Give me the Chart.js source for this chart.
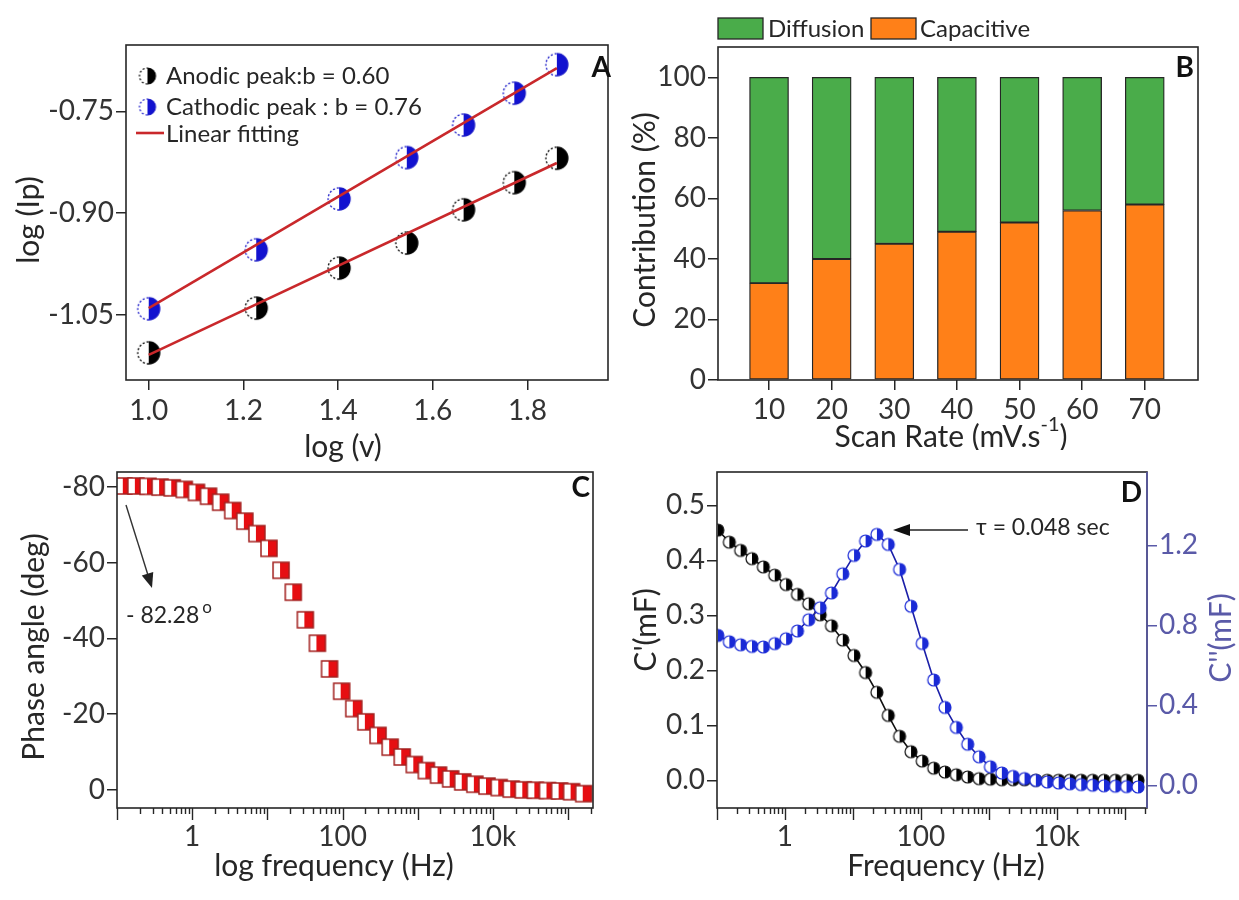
<!DOCTYPE html>
<html>
<head>
<meta charset="utf-8">
<script src="https://cdn.jsdelivr.net/npm/chart.js@4.4.0/dist/chart.umd.min.js"></script>
<style>
  html, body { margin: 0; padding: 0; background: #fff; }
  #wrap { position: relative; width: 1239px; height: 900px; overflow: hidden; }
  canvas { position: absolute; }
</style>
</head>
<body>
<div id="wrap">
  <canvas id="chartA" width="620" height="470" style="left:0;top:0;width:620px;height:470px"></canvas>
  <canvas id="chartB" width="619" height="450" style="left:620px;top:0;width:619px;height:450px"></canvas>
  <canvas id="chartC" width="620" height="450" style="left:0;top:450px;width:620px;height:450px"></canvas>
  <canvas id="chartD" width="619" height="450" style="left:620px;top:450px;width:619px;height:450px"></canvas>
</div>
<script>
// ---- A: peak current vs scan rate (log-log)
const logV = [1.0, 1.227, 1.402, 1.545, 1.665, 1.772, 1.862];
const logIpAnodic = [-1.106, -1.040, -0.981, -0.944, -0.895, -0.855, -0.819];
const logIpCathodic = [-1.041, -0.954, -0.879, -0.818, -0.770, -0.723, -0.681];
const fitX = [1.0, 1.862];
const fitAnodic = [-1.109, -0.826];
const fitCathodic = [-1.040, -0.686];
const ticksAx = [1.0, 1.2, 1.4, 1.6, 1.8];
const ticksAy = [-1.05, -0.90, -0.75];

// ---- B: capacitive / diffusion split
const scanRates = [10, 20, 30, 40, 50, 60, 70];
const capacitive = [32, 40, 45, 49, 52, 56, 58];
const diffusion = [68, 60, 55, 51, 48, 44, 42];
const ticksBy = [0, 20, 40, 60, 80, 100];

// ---- C: Bode phase
const freqC = [0.123, 0.178, 0.258, 0.374, 0.542, 0.785, 1.14, 1.65, 2.39, 3.46,
  5.01, 7.26, 10.5, 15.2, 22.1, 32.0, 46.3, 67.1, 97.3, 141,
  204, 296, 429, 621, 899, 1300, 1890, 2740, 3960, 5740,
  8320, 12100, 17500, 25300, 36600, 53100, 76900, 111000, 161000];
const phaseC = [-80.3, -80.3, -80.2, -80.0, -79.8, -79.4, -78.6, -77.6, -76.0, -73.8,
  -71.0, -67.7, -63.8, -58.0, -52.2, -44.9, -38.7, -31.9, -26.0, -21.4,
  -17.9, -14.3, -11.2, -8.6, -6.6, -5.0, -3.8, -2.8, -2.0, -1.4,
  -0.9, -0.5, -0.1, 0.1, 0.2, 0.3, 0.4, 0.6, 1.1];
const ticksCy = [-80, -60, -40, -20, 0];

// ---- D: real / imaginary capacitance
const freqD = [0.103, 0.152, 0.223, 0.327, 0.481, 0.708, 1.04, 1.53, 2.24, 3.30,
  4.84, 7.11, 10.4, 15.4, 22.6, 33.2, 48.8, 71.8, 105, 155,
  227, 334, 491, 723, 1060, 1560, 2290, 3370, 4940, 7280,
  10700, 15700, 23000, 33900, 49800, 73300, 107000, 158000];
const cReal = [0.455, 0.433, 0.418, 0.403, 0.388, 0.373, 0.356, 0.338, 0.321, 0.301,
  0.281, 0.255, 0.227, 0.196, 0.160, 0.118, 0.080, 0.052, 0.035, 0.022,
  0.015, 0.010, 0.006, 0.003, 0.002, 0.001, 0.001, 0.001, 0.000, 0.000,
  0.000, 0.000, 0.000, 0.000, 0.000, 0.000, 0.000, 0.000];
const cImag = [0.750, 0.718, 0.703, 0.695, 0.692, 0.709, 0.733, 0.772, 0.828, 0.888,
  0.962, 1.058, 1.150, 1.222, 1.255, 1.205, 1.080, 0.896, 0.710, 0.527,
  0.390, 0.290, 0.206, 0.143, 0.093, 0.062, 0.045, 0.034, 0.025, 0.017,
  0.012, 0.008, 0.004, 0.001, -0.002, -0.004, -0.006, -0.008];
const ticksDy = [0, 0.1, 0.2, 0.3, 0.4, 0.5];
const ticksDy2 = [0, 0.4, 0.8, 1.2];
const freqTicks = [1, 100, 10000];
const freqLabels = ['1', '100', '10k'];

const FONT = 'Lato, "Open Sans", sans-serif';
const INK = '#262626';
const TICK = '#333';
const BLUE_AX = '#5a5aa8';
const TITLE = 30;

const pairs = (xs, ys) => xs.map((x, i) => ({ x: x, y: ys[i] }));
const fixTicks = vals => scale => { scale.ticks = vals.map(v => ({ value: v })); };

// half-open marker: white on the left, filled on the right
function halfMarker(shape, size, fill, edge, lw, dashed) {
  const c = document.createElement('canvas');
  c.width = c.height = Math.ceil(size + 4);
  const g = c.getContext('2d');
  const m = c.width / 2, r = size / 2;
  g.lineWidth = lw;
  g.strokeStyle = edge;
  if (shape === 'circle') {
    g.beginPath(); g.arc(m, m, r, 0, Math.PI * 2); g.fillStyle = '#fff'; g.fill();
    g.beginPath(); g.arc(m, m, r, -Math.PI / 2, Math.PI / 2); g.closePath();
    g.fillStyle = fill; g.fill();
    g.beginPath(); g.arc(m, m, r, -Math.PI / 2, Math.PI / 2); g.stroke();
    if (dashed) g.setLineDash([2, 2]);
    g.beginPath(); g.arc(m, m, r, Math.PI / 2, Math.PI * 1.5); g.stroke();
  } else {
    g.fillStyle = '#fff'; g.fillRect(m - r, m - r, size, size);
    g.fillStyle = fill; g.fillRect(m - 1, m - r, r + 1, size);
    g.strokeRect(m - r, m - r, size, size);
  }
  return c;
}

function drawText(ctx, t) {
  const parts = t.parts || [{ s: t.text }];
  const size = t.size || 24;
  const w8 = t.weight || 'normal';
  const main = w8 + ' ' + size + 'px ' + FONT;
  const small = w8 + ' ' + Math.round(size * (t.supScale || 0.65)) + 'px ' + FONT;
  ctx.save();
  ctx.translate(t.x, t.y);
  if (t.rot) ctx.rotate(t.rot);
  ctx.fillStyle = t.color || INK;
  ctx.textAlign = 'left';
  ctx.textBaseline = t.baseline || 'middle';
  let w = 0;
  parts.forEach(p => { ctx.font = p.sup ? small : main; p.w = ctx.measureText(p.s).width; w += p.w; });
  let x = t.align === 'left' ? 0 : (t.align === 'right' ? -w : -w / 2);
  parts.forEach(p => {
    ctx.font = p.sup ? small : main;
    ctx.fillText(p.s, x + (p.dx || 0), p.sup ? -size * 0.42 : 0);
    x += p.w + (p.dx || 0);
  });
  ctx.restore();
}

function arrow(ctx, x1, y1, x2, y2, head, wide) {
  const ang = Math.atan2(y2 - y1, x2 - x1);
  ctx.beginPath(); ctx.moveTo(x1, y1);
  ctx.lineTo(x2 - Math.cos(ang) * head * 0.8, y2 - Math.sin(ang) * head * 0.8); ctx.stroke();
  ctx.beginPath(); ctx.moveTo(x2, y2);
  ctx.lineTo(x2 - Math.cos(ang) * head + Math.sin(ang) * wide, y2 - Math.sin(ang) * head - Math.cos(ang) * wide);
  ctx.lineTo(x2 - Math.cos(ang) * head - Math.sin(ang) * wide, y2 - Math.sin(ang) * head + Math.cos(ang) * wide);
  ctx.closePath(); ctx.fill();
}

// frame, labels and extras drawn on top of each chart
function decor(cfg) {
  return {
    id: 'decor',
    afterDraw(chart) {
      const ctx = chart.ctx, a = chart.chartArea;
      ctx.save();
      ctx.lineWidth = 1.6;
      ctx.strokeStyle = INK;
      ctx.strokeRect(a.left, a.top, a.right - a.left, a.bottom - a.top);
      if (cfg.rightColor) {
        ctx.strokeStyle = cfg.rightColor;
        ctx.beginPath(); ctx.moveTo(a.right, a.top); ctx.lineTo(a.right, a.bottom); ctx.stroke();
      }
      if (cfg.logTicks) {
        const sx = chart.scales.x;
        ctx.strokeStyle = INK; ctx.lineWidth = 1.4;
        for (let d = -1; d <= 5; d++) {
          for (let m = 1; m <= 9; m++) {
            const v = m * Math.pow(10, d);
            if (v < sx.min || v > sx.max) continue;
            const px = Math.round(sx.getPixelForValue(v)) + 0.5;
            ctx.beginPath(); ctx.moveTo(px, a.bottom); ctx.lineTo(px, a.bottom + (m === 1 ? 12 : 6)); ctx.stroke();
          }
        }
      }
      (cfg.texts || []).forEach(t => drawText(ctx, t));
      if (cfg.extra) cfg.extra(ctx, a);
      ctx.restore();
    }
  };
}

const tickFont = { family: FONT, size: 28 };
const baseGrid = { drawOnChartArea: false, color: INK, lineWidth: 1.5, tickLength: 10 };
const noBorder = { display: false };
const common = {
  responsive: false,
  animation: false,
  events: [],
  plugins: { legend: { display: false }, tooltip: { enabled: false } }
};

// ---------- A
const markAnodic = halfMarker('circle', 22, '#000', '#000', 1.3, true);
const markCathodic = halfMarker('circle', 22, '#1212d0', '#1818c8', 1.3, true);
const legAnodic = halfMarker('circle', 16, '#000', '#000', 1.2, true);
const legCathodic = halfMarker('circle', 16, '#1212d0', '#1818c8', 1.2, true);
const RED = '#c9282b';

new Chart(document.getElementById('chartA'), {
  type: 'scatter',
  data: {
    datasets: [
      { data: pairs(logV, logIpAnodic), pointStyle: markAnodic, pointRadius: 11, order: 2 },
      { data: pairs(logV, logIpCathodic), pointStyle: markCathodic, pointRadius: 11, order: 2 },
      { data: pairs(fitX, fitAnodic), showLine: true, borderColor: RED, borderWidth: 2.6, pointRadius: 0, order: 1 },
      { data: pairs(fitX, fitCathodic), showLine: true, borderColor: RED, borderWidth: 2.6, pointRadius: 0, order: 1 }
    ]
  },
  options: Object.assign({}, common, {
    layout: { padding: { top: 45, right: 4, left: 0, bottom: 0 } },
    scales: {
      x: {
        type: 'linear', min: 0.952, max: 1.97,
        afterBuildTicks: fixTicks(ticksAx),
        afterFit: s => { s.height = 90; },
        ticks: { font: tickFont, color: TICK, padding: 4, callback: v => v.toFixed(1) },
        grid: baseGrid, border: noBorder
      },
      y: {
        min: -1.146, max: -0.652,
        afterBuildTicks: fixTicks(ticksAy),
        afterFit: s => { s.width = 126; },
        ticks: { font: tickFont, color: TICK, padding: 2, callback: v => v.toFixed(2) },
        grid: baseGrid, border: noBorder
      }
    }
  }),
  plugins: [decor({
    texts: [
      { text: 'log (Ip)', x: 29, y: 220, rot: -Math.PI / 2, size: TITLE },
      { text: 'log (v)', x: 343, y: 447, size: TITLE },
      { text: 'A', x: 611, y: 68, align: 'right', size: 28, weight: 'bold', color: '#111' },
      { text: 'Anodic peak:b = 0.60', x: 166, y: 76, align: 'left', size: 24 },
      { text: 'Cathodic peak : b = 0.76', x: 166, y: 107, align: 'left', size: 24 },
      { text: 'Linear fitting', x: 166, y: 134, align: 'left', size: 24 }
    ],
    extra: (ctx) => {
      ctx.drawImage(legAnodic, 147.5 - legAnodic.width / 2, 76 - legAnodic.height / 2);
      ctx.drawImage(legCathodic, 147.5 - legCathodic.width / 2, 107 - legCathodic.height / 2);
      ctx.strokeStyle = RED; ctx.lineWidth = 2.6;
      ctx.beginPath(); ctx.moveTo(136, 133); ctx.lineTo(164, 133); ctx.stroke();
    }
  })]
});

// ---------- B
const GREEN = '#4aac4a';
const ORANGE = '#ff8018';

new Chart(document.getElementById('chartB'), {
  type: 'bar',
  data: {
    datasets: [
      { label: 'Capacitive', data: pairs(scanRates, capacitive), backgroundColor: ORANGE,
        borderColor: INK, borderWidth: 1.3, borderSkipped: false, barThickness: 39 },
      { label: 'Diffusion', data: pairs(scanRates, diffusion), backgroundColor: GREEN,
        borderColor: INK, borderWidth: 1.3, borderSkipped: false, barThickness: 39 }
    ]
  },
  options: Object.assign({}, common, {
    layout: { padding: { top: 47, right: 41, left: 0, bottom: 0 } },
    scales: {
      x: {
        type: 'linear', stacked: true, offset: false, min: 1.85, max: 78.5,
        afterBuildTicks: fixTicks(scanRates),
        afterFit: s => { s.height = 70; },
        ticks: { font: tickFont, color: TICK, padding: 3 },
        grid: Object.assign({}, baseGrid, { offset: false }), border: noBorder
      },
      y: {
        stacked: true, min: 0, max: 110,
        afterBuildTicks: fixTicks(ticksBy),
        afterFit: s => { s.width = 98; },
        ticks: { font: tickFont, color: TICK, padding: 2 },
        grid: baseGrid, border: noBorder
      }
    }
  }),
  plugins: [decor({
    texts: [
      { text: 'Contribution (%)', x: 25, y: 220, rot: -Math.PI / 2, size: TITLE },
      { parts: [{ s: 'Scan Rate (mV.s' }, { s: '-1', sup: true }, { s: ')' }], x: 331, y: 437, size: TITLE },
      { text: 'B', x: 574, y: 68, align: 'right', size: 28, weight: 'bold', color: '#111' },
      { text: 'Diffusion', x: 148, y: 29, align: 'left', size: 24 },
      { text: 'Capacitive', x: 300, y: 29, align: 'left', size: 24 }
    ],
    extra: (ctx) => {
      ctx.lineWidth = 1.3; ctx.strokeStyle = INK;
      ctx.fillStyle = GREEN; ctx.fillRect(98, 18, 45, 21); ctx.strokeRect(98, 18, 45, 21);
      ctx.fillStyle = ORANGE; ctx.fillRect(251, 18, 45, 21); ctx.strokeRect(251, 18, 45, 21);
    }
  })]
});

// ---------- C
const markSquare = halfMarker('square', 16, '#e60e12', '#a3201f', 1.5, false);

new Chart(document.getElementById('chartC'), {
  type: 'scatter',
  data: {
    datasets: [
      { data: pairs(freqC, phaseC), pointStyle: markSquare, pointRadius: 9 }
    ]
  },
  options: Object.assign({}, common, {
    layout: { padding: { top: 22, right: 27, left: 0, bottom: 0 } },
    scales: {
      x: {
        type: 'logarithmic', min: 0.1, max: 214000,
        afterBuildTicks: fixTicks(freqTicks),
        afterFit: s => { s.height = 92; },
        ticks: { font: tickFont, color: TICK, padding: 0, callback: v => freqLabels[freqTicks.indexOf(v)] },
        grid: { display: false, drawTicks: true, tickLength: 12 }, border: noBorder
      },
      y: {
        reverse: true, min: -84, max: 4.9,
        afterBuildTicks: fixTicks(ticksCy),
        afterFit: s => { s.width = 117; },
        ticks: { font: tickFont, color: TICK, padding: 2, callback: v => String(v) },
        grid: baseGrid, border: noBorder
      }
    }
  }),
  plugins: [decor({
    logTicks: true,
    texts: [
      { text: 'Phase angle (deg)', x: 34, y: 197, rot: -Math.PI / 2, size: TITLE },
      { text: 'log frequency (Hz)', x: 334, y: 416, size: TITLE },
      { text: 'C', x: 590, y: 38, align: 'right', size: 28, weight: 'bold', color: '#111' },
      { parts: [{ s: '- 82.28' }, { s: 'o', sup: true, dx: 3 }], x: 126, y: 173, align: 'left',
        size: 23, supScale: 0.75, baseline: 'alphabetic' }
    ],
    extra: (ctx) => {
      ctx.strokeStyle = '#333'; ctx.fillStyle = '#222'; ctx.lineWidth = 1.4;
      arrow(ctx, 126, 55, 152, 138, 15, 6);
    }
  })]
});

// ---------- D
const markReal = halfMarker('circle', 12, '#000', '#111', 1.2, false);
const markImag = halfMarker('circle', 12, '#1a2ad6', '#1a2ad6', 1.2, false);

new Chart(document.getElementById('chartD'), {
  type: 'scatter',
  data: {
    datasets: [
      { data: pairs(freqD, cImag), yAxisID: 'y2', showLine: true, borderColor: '#1b1fa8', borderWidth: 1.6,
        pointStyle: markImag, pointRadius: 6, order: 1 },
      { data: pairs(freqD, cReal), yAxisID: 'y', showLine: true, borderColor: '#111', borderWidth: 1.6,
        pointStyle: markReal, pointRadius: 6, order: 2 }
    ]
  },
  options: Object.assign({}, common, {
    layout: { padding: { top: 22, right: 0, left: 0, bottom: 0 } },
    scales: {
      x: {
        type: 'logarithmic', min: 0.1, max: 214000,
        afterBuildTicks: fixTicks(freqTicks),
        afterFit: s => { s.height = 92; },
        ticks: { font: tickFont, color: TICK, padding: 0, callback: v => freqLabels[freqTicks.indexOf(v)] },
        grid: { display: false, drawTicks: true, tickLength: 12 }, border: noBorder
      },
      y: {
        position: 'left', min: -0.0504, max: 0.5606,
        afterBuildTicks: fixTicks(ticksDy),
        afterFit: s => { s.width = 97; },
        ticks: { font: tickFont, color: TICK, padding: 2, callback: v => v.toFixed(1) },
        grid: baseGrid, border: noBorder
      },
      y2: {
        position: 'right', min: -0.113, max: 1.567,
        afterBuildTicks: fixTicks(ticksDy2),
        afterFit: s => { s.width = 92; },
        ticks: { font: tickFont, color: BLUE_AX, padding: 2, callback: v => v.toFixed(1) },
        grid: Object.assign({}, baseGrid, { color: BLUE_AX }), border: noBorder
      }
    }
  }),
  plugins: [decor({
    logTicks: true,
    rightColor: BLUE_AX,
    texts: [
      { text: "C'(mF)", x: 26, y: 180, rot: -Math.PI / 2, size: TITLE },
      { text: "C''(mF)", x: 601, y: 188, rot: -Math.PI / 2, size: TITLE, color: BLUE_AX },
      { text: 'Frequency (Hz)', x: 326, y: 416, size: TITLE },
      { text: 'D', x: 522, y: 43, align: 'right', size: 28, weight: 'bold', color: '#111' },
      { text: '\u03c4 = 0.048 sec', x: 356, y: 78, align: 'left', size: 23 }
    ],
    extra: (ctx) => {
      ctx.strokeStyle = '#222'; ctx.fillStyle = '#111'; ctx.lineWidth = 1.5;
      arrow(ctx, 348, 80, 273, 80, 17, 6);
    }
  })]
});
</script>
</body>
</html>
